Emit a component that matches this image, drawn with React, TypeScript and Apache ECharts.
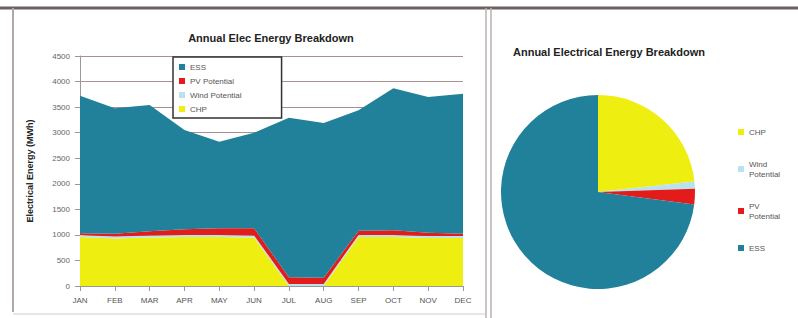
import React, { useEffect, useRef } from "react";
import * as echarts from "echarts";

const months = ["JAN", "FEB", "MAR", "APR", "MAY", "JUN", "JUL", "AUG", "SEP", "OCT", "NOV", "DEC"];
const chp = [960, 930, 950, 960, 960, 950, 0, 0, 960, 960, 940, 940];
const wind = [40, 40, 40, 40, 40, 40, 40, 40, 40, 40, 40, 40];
const pv = [30, 50, 80, 110, 130, 140, 130, 120, 80, 90, 60, 40];
const ess = [2690, 2460, 2470, 1940, 1690, 1870, 3120, 3030, 2360, 2780, 2660, 2740];
const yTicks = [0, 500, 1000, 1500, 2000, 2500, 3000, 3500, 4000, 4500];

const TEAL = "#21819a";
const YELLOW = "#eeee10";
const RED = "#e31b1b";
const LBLUE = "#b9e2ee";

const sum = (a: number[]) => a.reduce((s, v) => s + v, 0);

export default function App() {
  const ref = useRef<HTMLDivElement>(null);
  useEffect(() => {
    if (!ref.current) return;
    const chart = echarts.init(ref.current, undefined, { renderer: "svg" });
    const font = "Arial, 'Liberation Sans', sans-serif";
    const mk = (name: string, data: number[], color: string) => ({
      name,
      type: "line",
      stack: "total",
      data,
      symbol: "none",
      lineStyle: { width: 0 },
      areaStyle: { color, opacity: 1 },
      itemStyle: { color },
      xAxisIndex: 0,
      yAxisIndex: 0,
    });
    chart.setOption({
      animation: false,
      backgroundColor: "#ffffff",
      textStyle: { fontFamily: font },
      title: [
        {
          text: "Annual Elec Energy Breakdown",
          left: 266,
          top: 27,
          textAlign: "center",
          textStyle: { fontSize: 11, fontWeight: "bold", color: "#222" },
        },
        {
          text: "Annual Electrical Energy Breakdown",
          left: 508,
          top: 41,
          textStyle: { fontSize: 11, fontWeight: "bold", color: "#222" },
        },
      ],
      grid: { left: 80, right: 335, top: 56, bottom: 32 },
      xAxis: {
        type: "category",
        data: months,
        boundaryGap: false,
        axisLine: { lineStyle: { color: "#999" } },
        axisTick: { show: true, lineStyle: { color: "#999" } },
        axisLabel: { fontSize: 8, color: "#555", margin: 10 },
      },
      yAxis: {
        type: "value",
        min: yTicks[0],
        max: yTicks[yTicks.length - 1],
        interval: yTicks[1] - yTicks[0],
        name: "Electrical Energy (MWh)",
        nameLocation: "middle",
        nameGap: 46,
        nameTextStyle: { fontSize: 9, fontWeight: "bold", color: "#222" },
        axisLine: { show: true, lineStyle: { color: "#999" } },
        axisTick: { show: true, lineStyle: { color: "#999" } },
        axisLabel: { fontSize: 8, color: "#666", margin: 10, formatter: (v: number) => String(v) },
        splitLine: { lineStyle: { color: "#a89090", width: 1 } },
      },
      legend: [
        {
          data: ["ESS", "PV Potential", "Wind Potential", "CHP"],
          orient: "vertical",
          left: 173,
          top: 57,
          width: 103,
          itemWidth: 6,
          itemHeight: 6,
          itemGap: 6,
          padding: [6, 40, 5, 6],
          borderColor: "#333",
          borderWidth: 1.5,
          backgroundColor: "#fff",
          icon: "rect",
          textStyle: { fontSize: 8, color: "#555" },
        },
        {
          data: ["CHP", "Wind Potential", "PV Potential", "ESS"],
          orient: "vertical",
          left: 733,
          top: 122,
          itemWidth: 6,
          itemHeight: 6,
          itemGap: 22,
          icon: "rect",
          textStyle: { fontSize: 8, color: "#555", lineHeight: 10 },
          formatter: (n: string) => n.replace(" ", "\n"),
        },
      ],
      series: [
        mk("CHP", chp, YELLOW),
        mk("Wind Potential", wind, LBLUE),
        mk("PV Potential", pv, RED),
        mk("ESS", ess, TEAL),
        {
          type: "pie",
          center: [598, 192],
          radius: 97,
          startAngle: 90,
          clockwise: true,
          label: { show: false },
          labelLine: { show: false },
          data: [
            { name: "CHP", value: sum(chp), itemStyle: { color: YELLOW } },
            { name: "Wind Potential", value: sum(wind), itemStyle: { color: LBLUE } },
            { name: "PV Potential", value: sum(pv), itemStyle: { color: RED } },
            { name: "ESS", value: sum(ess), itemStyle: { color: TEAL } },
          ],
        },
      ],
      graphic: [
        { type: "line", shape: { x1: 0, y1: 8, x2: 798, y2: 8 }, style: { stroke: "#6a6060", lineWidth: 3 } },
        { type: "line", shape: { x1: 13, y1: 8, x2: 13, y2: 312 }, style: { stroke: "#b0a8a8", lineWidth: 2 } },
        { type: "line", shape: { x1: 486, y1: 8, x2: 486, y2: 318 }, style: { stroke: "#b8b0b0", lineWidth: 1.5 } },
        { type: "line", shape: { x1: 491, y1: 8, x2: 491, y2: 318 }, style: { stroke: "#b8b0b0", lineWidth: 1.5 } },
        { type: "line", shape: { x1: 13, y1: 314, x2: 486, y2: 314 }, style: { stroke: "#d0cccc", lineWidth: 1 } },
      ],
    });
    return () => chart.dispose();
  }, []);
  return (
    <div
      ref={ref}
      style={{ position: "absolute", left: 0, top: 0, width: 798, height: 318 }}
    />
  );
}
